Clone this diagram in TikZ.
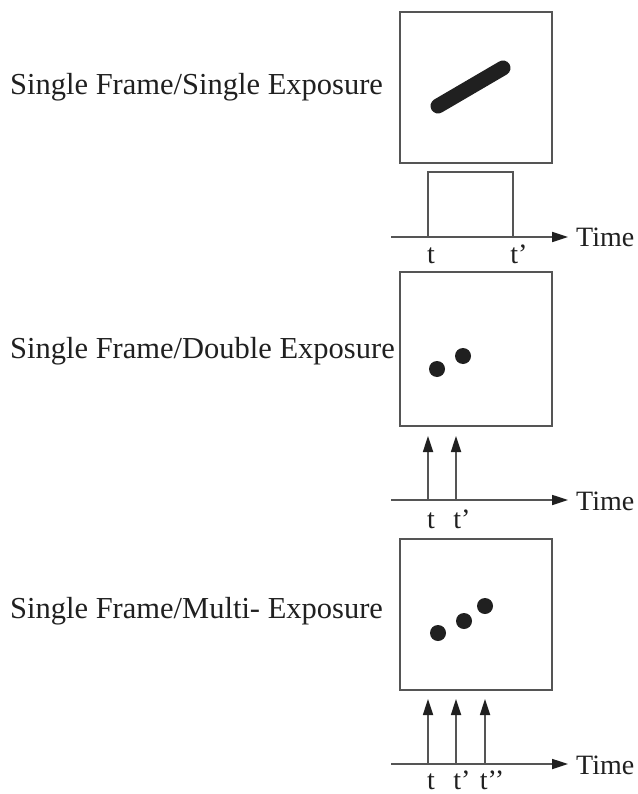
\documentclass[tikz,border=0pt]{standalone}
\usepackage{fontspec}
\setmainfont{Liberation Serif}
\usetikzlibrary{arrows.meta}
\definecolor{linegray}{HTML}{555555}
\definecolor{inkdark}{HTML}{202020}
\tikzset{
  framebox/.style={draw=linegray, line width=1.7pt, minimum width=152pt, minimum height=151pt, inner sep=0pt, anchor=north west},
  bigtext/.style={font=\fontsize{30.5}{34}\selectfont, inner sep=0pt, anchor=base west, text=inkdark},
  timetext/.style={font=\fontsize{28}{32}\selectfont, inner sep=0pt, anchor=base west, text=inkdark},
  ticktext/.style={font=\fontsize{28}{32}\selectfont, inner sep=0pt, anchor=base, text=inkdark},
  axisline/.style={draw=linegray, line width=1.7pt, -{Triangle[length=16pt,width=10pt,color=inkdark]}},
  pulse/.style={draw=linegray, line width=1.7pt, -{Triangle[length=16pt,width=10pt,color=inkdark]}},
  dot/.style={circle, fill=inkdark, minimum size=16pt, inner sep=0pt},
  sigline/.style={draw=linegray, line width=1.7pt},
}
\begin{document}
\begin{tikzpicture}[x=1pt,y=-1pt]
\useasboundingbox (0,0) rectangle (637,794);
\fill[white] (0,0) rectangle (637,794);

% ---------- Panel 1 ----------
\node[bigtext] (lab1) at (10,95) {Single Frame/Single Exposure};
\node[framebox] (box1) at (399,11) {};
\coordinate (s1a) at (438,106);
\coordinate (s1b) at (503,68);
\draw[inkdark, line width=15pt, line cap=round] (s1a) -- (s1b);

\coordinate (ax1s) at (391,237);
\coordinate (ax1e) at (568,237);
\draw[axisline] (ax1s) -- (ax1e);
\coordinate (p1a) at (428,237);
\coordinate (p1b) at (428,172);
\coordinate (p1c) at (513,172);
\coordinate (p1d) at (513,237);
\draw[sigline] (p1a) -- (p1b) -- (p1c) -- (p1d);
\node[timetext] (time1) at (576,247) {Time};
\node[ticktext] (t1a) at (431,263) {t};
\node[ticktext] (t1b) at (519,263) {t’};

% ---------- Panel 2 ----------
\node[bigtext] (lab2) at (10,358) {Single Frame/Double Exposure};
\node[framebox, minimum height=154pt] (box2) at (399,271) {};
\node[dot] (d2a) at (437,369) {};
\node[dot] (d2b) at (463,356) {};

\coordinate (ax2s) at (391,500);
\coordinate (ax2e) at (568,500);
\draw[axisline] (ax2s) -- (ax2e);
\coordinate (a2a) at (428,500);
\coordinate (a2at) at (428,436);
\coordinate (a2b) at (456,500);
\coordinate (a2bt) at (456,436);
\draw[pulse] (a2a) -- (a2at);
\draw[pulse] (a2b) -- (a2bt);
\node[timetext] (time2) at (576,510) {Time};
\node[ticktext] (t2a) at (431,528) {t};
\node[ticktext] (t2b) at (462,528) {t’};

% ---------- Panel 3 ----------
\node[bigtext] (lab3) at (10,618) {Single Frame/Multi- Exposure};
\node[framebox] (box3) at (399,538) {};
\node[dot] (d3a) at (438,633) {};
\node[dot] (d3b) at (464,621) {};
\node[dot] (d3c) at (485,606) {};

\coordinate (ax3s) at (391,764);
\coordinate (ax3e) at (568,764);
\draw[axisline] (ax3s) -- (ax3e);
\coordinate (a3a) at (428,764);
\coordinate (a3at) at (428,699);
\coordinate (a3b) at (456,764);
\coordinate (a3bt) at (456,699);
\coordinate (a3c) at (485,764);
\coordinate (a3ct) at (485,699);
\draw[pulse] (a3a) -- (a3at);
\draw[pulse] (a3b) -- (a3bt);
\draw[pulse] (a3c) -- (a3ct);
\node[timetext] (time3) at (576,774) {Time};
\node[ticktext] (t3a) at (431,789) {t};
\node[ticktext] (t3b) at (462,789) {t’};
\node[ticktext] (t3c) at (492,789) {t’’};
\end{tikzpicture}
\end{document}
